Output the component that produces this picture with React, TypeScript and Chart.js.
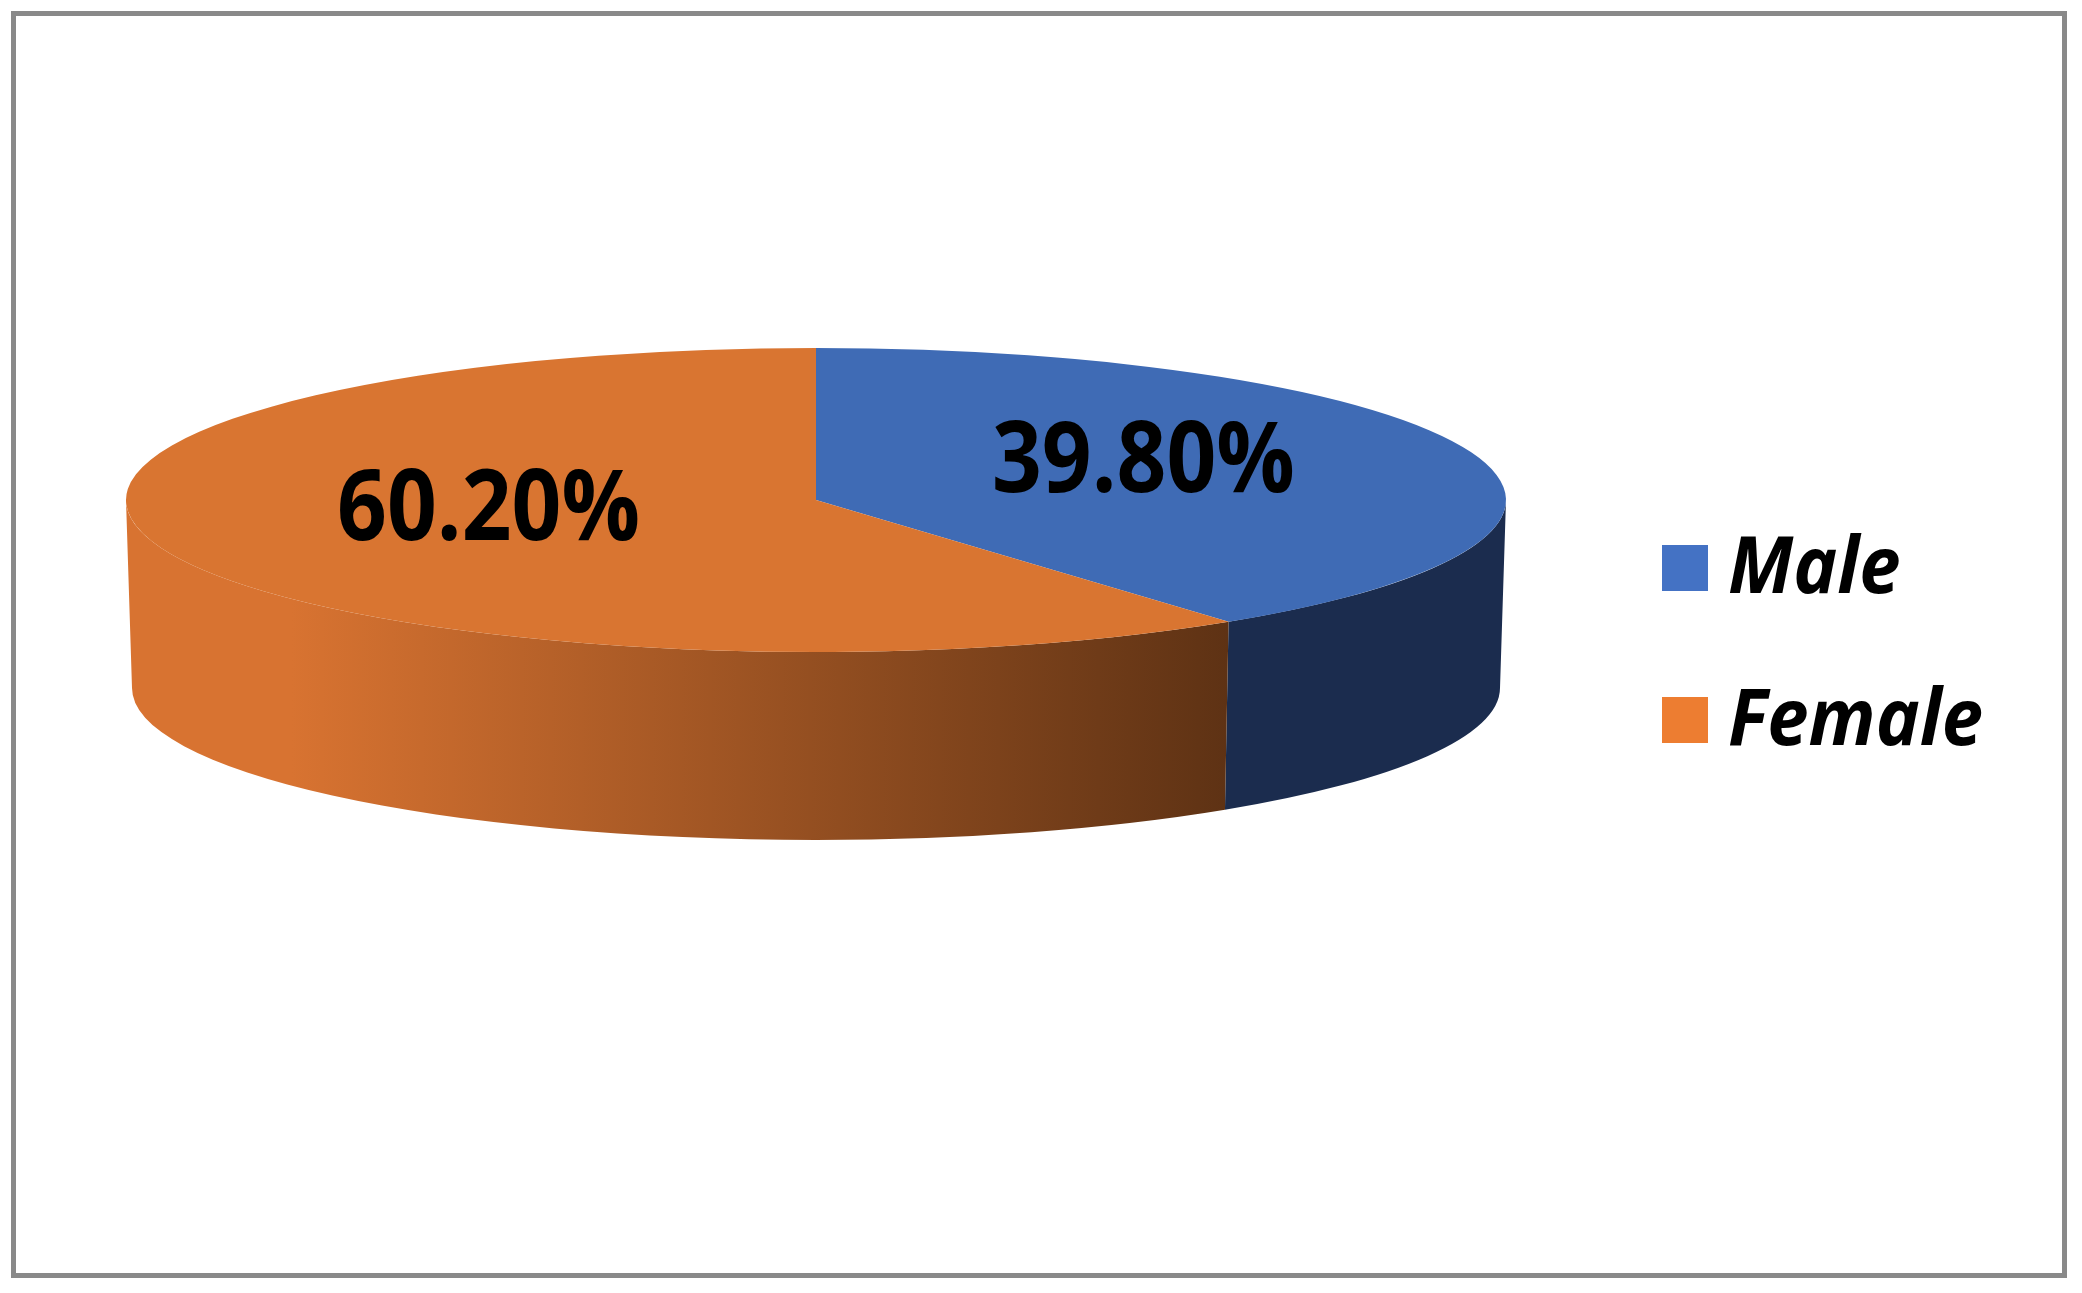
import React, { useEffect, useRef } from 'react';
import { Chart, registerables } from 'chart.js';

Chart.register(...registerables);

// ---- data ----
const categories: string[] = ['Male', 'Female'];
const percentValues: number[] = [39.8, 60.2];
const topColors: string[] = ['#3F6BB5', '#D97531'];
const legendColors: string[] = ['#4472C4', '#ED7D31'];
const sideColorsLight: string[] = ['#1B2C4E', '#D87331'];
const sideColorsDark: string[] = ['#1B2C4E', '#5E3214'];

const FONT = '"Open Sans", "Liberation Sans", sans-serif';

export default function App() {
  const ref = useRef<HTMLCanvasElement>(null);

  useEffect(() => {
    const canvas = ref.current;
    if (!canvas) return;

    const pie3d = {
      id: 'pie3d',
      beforeDraw(chart: any) {
        const { ctx, width, height } = chart;
        ctx.save();
        ctx.fillStyle = '#ffffff';
        ctx.fillRect(0, 0, width, height);
        ctx.strokeStyle = '#898989';
        ctx.lineWidth = 5;
        ctx.strokeRect(13.5, 13.5, 2051, 1262);
        ctx.restore();
      },
      beforeDatasetsDraw(chart: any, _args: any, opts: any) {
        const { ctx } = chart;
        const arcs = chart.getDatasetMeta(0).data;
        const cx = arcs[0].x;
        const cy = arcs[0].y;
        const R = arcs[0].outerRadius;
        const rx = opts.rx, ry = opts.ry, depth = opts.depth, rxb = opts.rxBottom;
        arcs.forEach((arc: any, i: number) => {
          const s = arc.startAngle;
          const e = arc.endAngle;
          for (const k of [-2, 0, 2]) {
            const t1 = Math.max(s, k * Math.PI);
            const t2 = Math.min(e, k * Math.PI + Math.PI);
            if (t2 <= t1) continue;
            const xRight = cx + rx * Math.cos(t1);
            const xLeft = cx + rx * Math.cos(t2);
            const g = ctx.createLinearGradient(Math.min(xLeft, xRight), 0, Math.max(xLeft, xRight), 0);
            g.addColorStop(0, sideColorsLight[i]);
            g.addColorStop(0.15, sideColorsLight[i]);
            g.addColorStop(1, sideColorsDark[i]);
            ctx.save();
            ctx.beginPath();
            ctx.ellipse(cx, cy, rx, ry, 0, t1, t2, false);
            ctx.ellipse(cx, cy + depth, rxb, ry, 0, t2, t1, true);
            ctx.closePath();
            ctx.fillStyle = g;
            ctx.fill();
            ctx.restore();
          }
        });
        ctx.save();
        ctx.translate(cx, cy);
        ctx.scale(rx / R, ry / R);
        ctx.translate(-cx, -cy);
      },
      afterDatasetsDraw(chart: any, _args: any, opts: any) {
        const { ctx } = chart;
        ctx.restore();
        const arcs = chart.getDatasetMeta(0).data;
        const values = chart.data.datasets[0].data as number[];
        arcs.forEach((arc: any, i: number) => {
          const mid = (arc.startAngle + arc.endAngle) / 2;
          const x = arc.x + 0.5 * opts.rx * Math.cos(mid);
          const y = arc.y + 0.5 * opts.ry * Math.sin(mid) + opts.labelDy;
          ctx.save();
          ctx.fillStyle = '#000000';
          ctx.font = `bold ${opts.labelSize}px ${FONT}`;
          ctx.textAlign = 'center';
          ctx.textBaseline = 'middle';
          ctx.translate(x, y);
          ctx.scale(opts.textScaleX, 1);
          ctx.fillText(values[i].toFixed(2) + '%', 0, 0);
          ctx.restore();
        });
      },
      afterDraw(chart: any, _args: any, opts: any) {
        const { ctx } = chart;
        const labels = chart.data.labels as string[];
        labels.forEach((lab, i) => {
          const yc = opts.legendY + i * opts.legendGap;
          const b = opts.legendBox;
          ctx.save();
          ctx.fillStyle = legendColors[i];
          ctx.fillRect(opts.legendX, yc - b / 2, b, b);
          ctx.fillStyle = '#000000';
          ctx.font = `italic bold ${opts.legendSize}px ${FONT}`;
          ctx.textAlign = 'left';
          ctx.textBaseline = 'middle';
          ctx.translate(opts.legendX + b + 20, yc + 3);
          ctx.scale(opts.legendScaleX, 1);
          ctx.fillText(lab, 0, 0);
          ctx.restore();
        });
      },
    };

    const chart = new Chart(canvas, {
      type: 'pie',
      data: {
        labels: categories,
        datasets: [
          {
            data: percentValues,
            backgroundColor: topColors,
            borderWidth: 0,
            hoverOffset: 0,
          },
        ],
      },
      options: {
        animation: false,
        responsive: false,
        events: [],
        layout: { padding: { left: 0, right: 450, top: 0, bottom: 293 } },
        plugins: {
          legend: { display: false },
          tooltip: { enabled: false },
          pie3d: {
            rx: 690,
            rxBottom: 684,
            ry: 152,
            depth: 188,
            labelSize: 98,
            labelDy: -12,
            textScaleX: 0.89,
            legendSize: 78,
            legendScaleX: 0.95,
            legendX: 1662,
            legendY: 568,
            legendGap: 152,
            legendBox: 46,
          },
        } as any,
      },
      plugins: [pie3d],
    });

    return () => chart.destroy();
  }, []);

  return (
    <div style={{ position: 'fixed', left: 0, top: 0, width: 2082, height: 1293, background: '#fff' }}>
      <canvas ref={ref} width={2082} height={1293} style={{ display: 'block', width: 2082, height: 1293 }} />
    </div>
  );
}
